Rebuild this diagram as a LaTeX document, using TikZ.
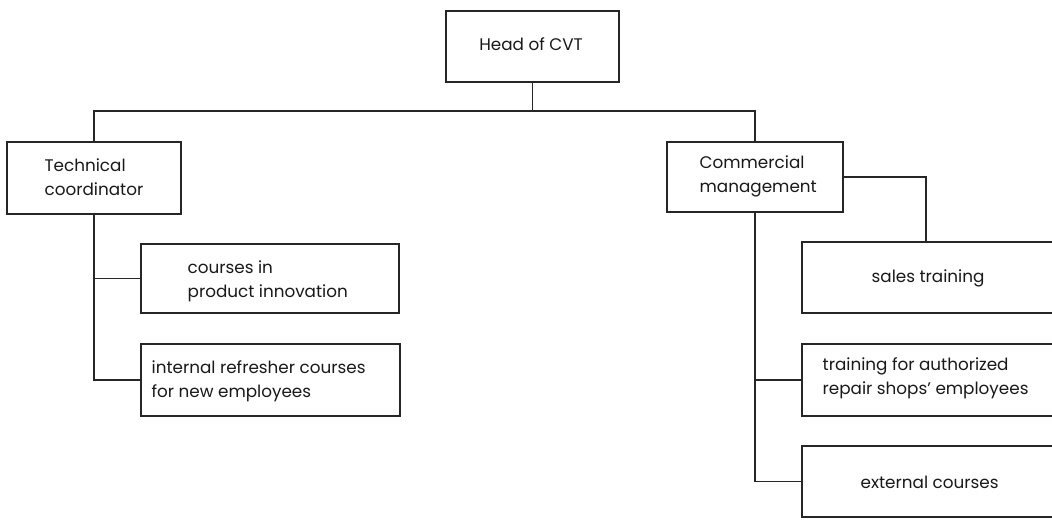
\documentclass[tikz,border=0pt]{standalone}
\usepackage{fontspec}
\setmainfont{Poppins}
\begin{document}
\begin{tikzpicture}[x=1pt,y=-1pt,
  line width=1.3pt,
  unit/.style={draw=black!85, rectangle, inner sep=0pt, minimum width=#1},
  caption/.style={inner sep=0pt, align=left, font=\fontsize{16.8}{24}\selectfont, text=black!90},
  link/.style={draw=black!85, line width=1.3pt}]
\useasboundingbox (0,0) rectangle (1052,530);
\fill[white] (0,0) rectangle (1052,530);
\clip (0,0) rectangle (1052,530);

% organisational units
\node[unit=173pt, minimum height=71pt] (head)     at (532.5,46.5) {};
\node[unit=174pt, minimum height=72pt] (tech)     at (94,178)     {};
\node[unit=258pt, minimum height=69pt] (innov)    at (270,278.5)  {};
\node[unit=259pt, minimum height=72pt] (refresh)  at (270.5,380)  {};
\node[unit=176pt, minimum height=70pt] (comm)     at (755,177)    {};
\node[unit=260pt, minimum height=71pt] (sales)    at (932,277.5)  {};
\node[unit=260pt, minimum height=72pt] (repair)   at (932,380)    {};
\node[unit=260pt, minimum height=71pt] (external) at (932,481.5)  {};

% labels
\node[caption, anchor=center] (headtxt) at (531,44) {Head of CVT};
\node[caption, anchor=west] (techtxt) at (44,177) {Technical\\coordinator};
\node[caption, anchor=west] (innovtxt) at (187,281) {courses in\\product innovation};
\node[caption, anchor=west] (refreshtxt) at (151,381) {internal refresher courses\\for new employees};
\node[caption, anchor=west] (commtxt) at (699,176) {Commercial\\management};
\node[caption, anchor=west] (salestxt) at (871,278) {sales training};
\node[caption, anchor=west] (repairtxt) at (822,378) {training for authorized\\repair shops' employees};
\node[caption, anchor=west] (externaltxt) at (860,482) {external courses};

% connectors
\coordinate (busL) at (94,111);
\coordinate (busR) at (755,111);
\draw[link] (head.south) -- (head.south |- busL);
\draw[link] (tech.north) -- (busL) -- (busR) -- (comm.north);
\draw[link] (tech.south) |- (refresh.west);
\draw[link] (tech.south |- innov.west) -- (innov.west);
\draw[link] (comm.east) -| ([xshift=-6pt]sales.north);
\draw[link] (comm.south) |- (external.west);
\draw[link] (comm.south |- repair.west) -- (repair.west);
\end{tikzpicture}
\end{document}
